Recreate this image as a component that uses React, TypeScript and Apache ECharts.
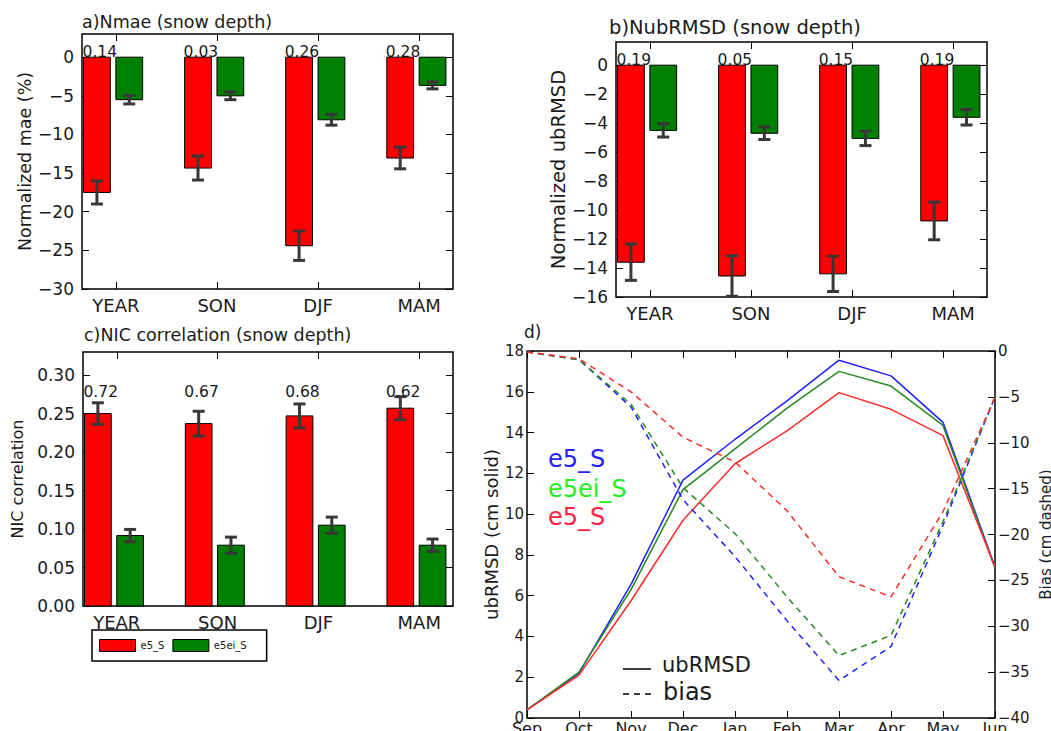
import React, { useEffect, useRef } from "react";
import * as echarts from "echarts";

// ---------- data ----------
const categories = ["YEAR", "SON", "DJF", "MAM"];

const nmaeE5 = [-17.5, -14.35, -24.4, -13.05];
const nmaeE5Err = [1.5, 1.55, 1.9, 1.4];
const nmaeE5ei = [-5.5, -5.0, -8.1, -3.65];
const nmaeE5eiErr = [0.55, 0.5, 0.7, 0.45];
const nmaeLabels = ["0.14", "0.03", "0.26", "0.28"];

const ubE5 = [-13.6, -14.55, -14.4, -10.75];
const ubE5Err = [1.25, 1.4, 1.22, 1.3];
const ubE5ei = [-4.5, -4.7, -5.05, -3.6];
const ubE5eiErr = [0.46, 0.43, 0.5, 0.53];
const ubLabels = ["0.19", "0.05", "0.15", "0.19"];

const corE5 = [0.25, 0.237, 0.247, 0.257];
const corE5Err = [0.014, 0.016, 0.0155, 0.015];
const corE5ei = [0.0915, 0.079, 0.105, 0.079];
const corE5eiErr = [0.008, 0.0105, 0.0105, 0.008];
const corLabels = ["0.72", "0.67", "0.68", "0.62"];

const nmaeTicks = [-30, -25, -20, -15, -10, -5, 0];
const ubTicks = [-16, -14, -12, -10, -8, -6, -4, -2, 0];
const corTicks = [0, 0.05, 0.1, 0.15, 0.2, 0.25, 0.3];

const months = ["Sep", "Oct", "Nov", "Dec", "Jan", "Feb", "Mar", "Apr", "May", "Jun"];
const ubrmsdBlue = [0.4, 2.2, 6.55, 11.67, 13.67, 15.55, 17.55, 16.78, 14.5, 7.4];
const ubrmsdGreen = [0.4, 2.25, 6.3, 11.2, 13.2, 15.2, 17.0, 16.28, 14.35, 7.35];
const ubrmsdRed = [0.4, 2.1, 5.75, 9.7, 12.47, 14.08, 15.96, 15.14, 13.85, 7.4];
const biasBlue = [-0.1, -0.95, -6.1, -16.2, -22.4, -29.4, -35.9, -32.2, -19.0, -5.0];
const biasGreen = [-0.1, -0.95, -5.8, -14.9, -19.9, -26.8, -33.2, -31.0, -18.6, -5.0];
const biasRed = [-0.1, -0.85, -4.45, -9.4, -12.1, -17.4, -24.6, -26.8, -17.5, -5.1];

// ---------- style ----------
const FONT = "DejaVu Sans";
const TXT = "#1a1a1a";
const RED = "#ff0000";
const GREEN = "#008000";
const ERR = "#383838";
const catPos = categories.map((_, i) => i);
const RED_OFF = -0.32;
const GREEN_OFF = 0.0;
const BAR_W = 0.265;

const minus = (v: number, digits = 0) => {
  const s = Math.abs(v).toFixed(digits);
  return v < 0 ? "\u2212" + s : s;
};

const tickStyle = { color: "#000", width: 1 };
const noLine = { show: false, onZero: false };

function barXAxes(g: number) {
  const base: any = {
    type: "value",
    gridIndex: g,
    min: -0.335,
    max: 3.335,
    splitLine: { show: false },
    axisLine: noLine,
    axisTick: { show: true, inside: true, length: 7, customValues: catPos, lineStyle: tickStyle },
  };
  return [
    {
      ...base,
      position: "bottom",
      axisLabel: {
        customValues: catPos,
        formatter: (v: number) => categories[Math.round(v)],
        fontSize: 18,
        margin: 7,
        color: TXT,
        fontFamily: FONT,
      },
    },
    { ...base, position: "top", axisLabel: { show: false } },
  ];
}

function barYAxes(
  g: number,
  min: number,
  max: number,
  ticks: number[],
  fmt: (v: number) => string,
  name: string,
  nameSize: number,
  nameGap: number
) {
  const base: any = {
    type: "value",
    gridIndex: g,
    min,
    max,
    splitLine: { show: false },
    axisLine: noLine,
    axisTick: { show: true, inside: true, length: 7, customValues: ticks, lineStyle: tickStyle },
  };
  return [
    {
      ...base,
      position: "left",
      name,
      nameLocation: "middle",
      nameGap,
      nameTextStyle: { fontSize: nameSize, color: TXT, fontFamily: FONT },
      axisLabel: { customValues: ticks, formatter: fmt, fontSize: 17, margin: 8, color: TXT, fontFamily: FONT },
    },
    { ...base, position: "right", axisLabel: { show: false } },
  ];
}

function barSeries(name: string, ax: number, values: number[], off: number, color: string) {
  return {
    type: "custom",
    name,
    xAxisIndex: ax,
    yAxisIndex: ax,
    itemStyle: { color },
    data: values.map((v, i) => [i, v]),
    encode: { x: 0, y: 1 },
    renderItem: (_p: any, api: any) => {
      const i = api.value(0);
      const v = api.value(1);
      const a = api.coord([i + off, v]);
      const b = api.coord([i + off + BAR_W, 0]);
      return {
        type: "rect",
        shape: {
          x: Math.min(a[0], b[0]),
          y: Math.min(a[1], b[1]),
          width: Math.abs(b[0] - a[0]),
          height: Math.abs(b[1] - a[1]),
        },
        style: { fill: color, stroke: "#000", lineWidth: 1 },
      };
    },
  };
}

function errSeries(ax: number, values: number[], errs: number[], off: number) {
  return {
    type: "custom",
    name: "err",
    xAxisIndex: ax,
    yAxisIndex: ax,
    z: 5,
    data: values.map((v, i) => [i, v, errs[i]]),
    encode: { x: 0, y: 1 },
    renderItem: (_p: any, api: any) => {
      const i = api.value(0);
      const v = api.value(1);
      const e = api.value(2);
      const xc = i + off + BAR_W / 2;
      const t = api.coord([xc, v + e]);
      const b = api.coord([xc, v - e]);
      const cap = 6;
      const st = { stroke: ERR, lineWidth: 3 };
      return {
        type: "group",
        children: [
          { type: "line", shape: { x1: t[0], y1: t[1], x2: b[0], y2: b[1] }, style: st },
          { type: "line", shape: { x1: t[0] - cap, y1: t[1], x2: t[0] + cap, y2: t[1] }, style: st },
          { type: "line", shape: { x1: b[0] - cap, y1: b[1], x2: b[0] + cap, y2: b[1] }, style: st },
        ],
      };
    },
  };
}

function labelSeries(ax: number, labels: string[], yPos: number, size: number) {
  return {
    type: "custom",
    name: "labels",
    xAxisIndex: ax,
    yAxisIndex: ax,
    z: 6,
    data: labels.map((_, i) => [i, yPos]),
    encode: { x: 0, y: 1 },
    renderItem: (p: any, api: any) => {
      const c = api.coord([api.value(0) + RED_OFF, api.value(1)]);
      return {
        type: "text",
        x: c[0] - 1,
        y: c[1] + 3,
        style: {
          text: labels[p.dataIndex],
          fontSize: size,
          fontFamily: FONT,
          fill: TXT,
          align: "left",
          verticalAlign: "bottom",
        },
      };
    },
  };
}

function panelBars(ax: number, red: number[], redErr: number[], green: number[], greenErr: number[], labels: string[], labelY: number) {
  return [
    barSeries("e5_S", ax, red, RED_OFF, RED),
    barSeries("e5ei_S", ax, green, GREEN_OFF, GREEN),
    errSeries(ax, red, redErr, RED_OFF),
    errSeries(ax, green, greenErr, GREEN_OFF),
    labelSeries(ax, labels, labelY, 15.5),
  ];
}

const gridBase = {
  show: true,
  borderColor: "#000",
  borderWidth: 1.5,
  backgroundColor: "transparent",
  containLabel: false,
  outerBoundsMode: "none",
};

const lineSeries = (name: string, data: number[], yIdx: number, color: string, dashed: boolean) => ({
  type: "line",
  name,
  xAxisIndex: 6,
  yAxisIndex: yIdx,
  data,
  symbol: "none",
  lineStyle: { color, width: 1.5, type: dashed ? [6, 5] : "solid" },
  itemStyle: { color },
});

const LBLUE = "#2020ff";
const LGREEN = "#228b22";
const LRED = "#ff2a2a";

const monthXBase: any = {
  type: "category",
  gridIndex: 3,
  data: months,
  boundaryGap: false,
  splitLine: { show: false },
  axisLine: noLine,
  axisTick: { show: true, inside: true, length: 7, alignWithLabel: true, interval: 0, lineStyle: tickStyle },
};

const titleStyle = (size: number) => ({ fontSize: size, fontWeight: "normal", color: TXT, fontFamily: FONT });

const option: any = {
  animation: false,
  backgroundColor: "#ffffff",
  textStyle: { fontFamily: FONT },
  title: [
    { text: "a)Nmae (snow depth)", left: 82, top: 13, padding: 0, textStyle: titleStyle(17.5) },
    { text: "b)NubRMSD (snow depth)", left: 609, top: 17, padding: 0, textStyle: titleStyle(19.5) },
    { text: "c)NIC correlation (snow depth)", left: 84, top: 326, padding: 0, textStyle: titleStyle(17.5) },
    { text: "d)", left: 524, top: 323, padding: 0, textStyle: titleStyle(17) },
  ],
  legend: {
    data: [
      { name: "e5_S", itemStyle: { color: RED, borderColor: "#000", borderWidth: 1 } },
      { name: "e5ei_S", itemStyle: { color: GREEN, borderColor: "#000", borderWidth: 1 } },
    ],
    left: 92,
    top: 630,
    icon: "rect",
    itemWidth: 36,
    itemHeight: 12,
    itemGap: 8,
    padding: [9, 20, 9, 7],
    borderColor: "#000",
    borderWidth: 1.5,
    selectedMode: false,
    textStyle: { fontSize: 10, color: TXT, fontFamily: FONT },
  },
  grid: [
    { ...gridBase, left: 82, top: 34, width: 371, height: 255 },
    { ...gridBase, left: 616, top: 42, width: 371, height: 255 },
    { ...gridBase, left: 83, top: 352, width: 370, height: 254 },
    { ...gridBase, left: 527, top: 351, width: 468, height: 367 },
  ],
  xAxis: [
    ...barXAxes(0),
    ...barXAxes(1),
    ...barXAxes(2),
    {
      ...monthXBase,
      position: "bottom",
      axisLabel: { interval: 0, fontSize: 16, margin: 2, color: TXT, fontFamily: FONT },
    },
    { ...monthXBase, position: "top", axisLabel: { show: false } },
  ],
  yAxis: [
    ...barYAxes(0, -30, 3, nmaeTicks, (v) => minus(v), "Normalized mae (%)", 17.5, 48),
    ...barYAxes(1, -16, 1.6, ubTicks, (v) => minus(v), "Normalized ubRMSD", 19.5, 47),
    ...barYAxes(2, 0, 0.33, corTicks, (v) => v.toFixed(2), "NIC correlation", 16, 58),
    {
      type: "value",
      gridIndex: 3,
      position: "left",
      min: 0,
      max: 18,
      interval: 2,
      splitLine: { show: false },
      axisLine: noLine,
      axisTick: { show: true, inside: true, length: 7, lineStyle: tickStyle },
      axisLabel: { fontSize: 15, margin: 3, color: TXT, fontFamily: FONT },
      name: "ubRMSD (cm solid)",
      nameLocation: "middle",
      nameGap: 27,
      nameTextStyle: { fontSize: 18, color: TXT, fontFamily: FONT },
    },
    {
      type: "value",
      gridIndex: 3,
      position: "right",
      min: -40,
      max: 0,
      interval: 5,
      splitLine: { show: false },
      axisLine: noLine,
      axisTick: { show: true, inside: true, length: 7, lineStyle: tickStyle },
      axisLabel: { fontSize: 15, margin: 3, color: TXT, fontFamily: FONT, formatter: (v: number) => minus(v) },
      name: "Bias (cm dashed)",
      nameLocation: "middle",
      nameGap: 43,
      nameTextStyle: { fontSize: 15, color: TXT, fontFamily: FONT },
    },
  ],
  series: [
    ...panelBars(0, nmaeE5, nmaeE5Err, nmaeE5ei, nmaeE5eiErr, nmaeLabels, 0),
    ...panelBars(2, ubE5, ubE5Err, ubE5ei, ubE5eiErr, ubLabels, 0),
    ...panelBars(4, corE5, corE5Err, corE5ei, corE5eiErr, corLabels, 0.272),
    lineSeries("e5_S ubRMSD", ubrmsdBlue, 6, LBLUE, false),
    lineSeries("e5ei_S ubRMSD", ubrmsdGreen, 6, LGREEN, false),
    lineSeries("e5_S (red) ubRMSD", ubrmsdRed, 6, LRED, false),
    lineSeries("e5_S bias", biasBlue, 7, LBLUE, true),
    lineSeries("e5ei_S bias", biasGreen, 7, LGREEN, true),
    lineSeries("e5_S (red) bias", biasRed, 7, LRED, true),
  ],
  graphic: [
    { type: "text", left: 548, top: 447, style: { text: "e5_S", fontSize: 24, fontFamily: FONT, fill: "#2222ff" } },
    { type: "text", left: 548, top: 477, style: { text: "e5ei_S", fontSize: 24, fontFamily: FONT, fill: "#22ee22" } },
    { type: "text", left: 548, top: 505, style: { text: "e5_S", fontSize: 24, fontFamily: FONT, fill: "#ff2244" } },
    { type: "line", shape: { x1: 623, y1: 669, x2: 651, y2: 669 }, style: { stroke: "#000", lineWidth: 1.5 } },
    { type: "text", left: 662, top: 654, style: { text: "ubRMSD", fontSize: 21, fontFamily: FONT, fill: TXT } },
    { type: "line", shape: { x1: 623, y1: 694, x2: 651, y2: 694 }, style: { stroke: "#000", lineWidth: 1.5, lineDash: [6, 5] } },
    { type: "text", left: 663, top: 680, style: { text: "bias", fontSize: 24, fontFamily: FONT, fill: TXT } },
  ],
};

export default function App() {
  const ref = useRef<HTMLDivElement>(null);
  useEffect(() => {
    document.body.style.margin = "0";
    const chart = echarts.init(ref.current as HTMLDivElement, null, { renderer: "svg" });
    chart.setOption(option);
    return () => chart.dispose();
  }, []);
  return <div ref={ref} style={{ width: 1051, height: 731 }} />;
}
